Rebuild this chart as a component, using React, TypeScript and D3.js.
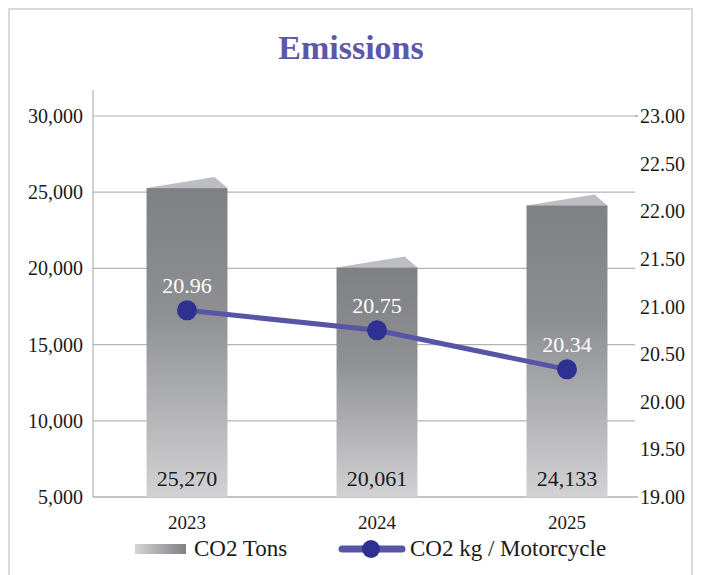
import React from 'react';
import * as d3 from 'd3';

const years = ['2023', '2024', '2025'];
const co2Tons = [25270, 20061, 24133];
const co2PerMoto = [20.96, 20.75, 20.34];
const leftTicks = [5000, 10000, 15000, 20000, 25000, 30000];
const rightTicks = [19, 19.5, 20, 20.5, 21, 21.5, 22, 22.5, 23];

const W = 702;
const H = 575;
const FONT = 'Liberation Serif, DejaVu Serif, Times New Roman, serif';

const App: React.FC = () => {
  const top = 116;
  const bottom = 497;
  const left = 93;
  const gridRight = 635;

  const yLeft = d3.scaleLinear().domain([5000, 30000]).range([bottom, top]);
  const yRight = d3.scaleLinear().domain([19, 23]).range([bottom, top]);
  const x = d3.scaleBand<string>()
    .domain(years)
    .range([92, 662])
    .paddingInner(0.574)
    .paddingOuter(0.287);

  const bw = x.bandwidth();
  const cx = (y: string) => (x(y) ?? 0) + bw / 2;

  const line = d3.line<number>()
    .x((_, i) => cx(years[i]))
    .y(d => yRight(d));

  const fmtL = d3.format(',');
  const fmtR = d3.format('.2f');

  return (
    <div style={{ position: 'absolute', left: 0, top: 0 }}>
      <svg width={W} height={H} fontFamily={FONT} style={{ display: 'block' }}>
        <defs>
          <linearGradient id="barGrad" x1="0" y1="0" x2="0" y2="1">
            <stop offset="0%" stopColor="#7f8084" />
            <stop offset="40%" stopColor="#8e8f93" />
            <stop offset="100%" stopColor="#d2d2d4" />
          </linearGradient>
          <linearGradient id="legGrad" x1="0" y1="0" x2="1" y2="0">
            <stop offset="0%" stopColor="#d4d4d6" />
            <stop offset="100%" stopColor="#7f8084" />
          </linearGradient>
        </defs>
        <rect width={W} height={H} fill="#fff" />
        <rect x={9} y={9} width={683} height={H + 10} fill="none" stroke="#d9d9e4" strokeWidth={2} />

        <text x={351} y={59} textAnchor="middle" fontSize={34} fontWeight="bold" fill="#5c58a8">
          Emissions
        </text>

        {/* gridlines */}
        {leftTicks.slice(1).map(t => (
          <line key={t} x1={left} x2={gridRight} y1={yLeft(t)} y2={yLeft(t)} stroke="#b3b3b3" strokeWidth={1.2} />
        ))}
        <line x1={left} x2={left} y1={90} y2={bottom} stroke="#b3b3b3" strokeWidth={1.2} />
        <line x1={left} x2={638} y1={bottom} y2={bottom} stroke="#8c8c8c" strokeWidth={1.2} />
        <line x1={gridRight} x2={638} y1={top} y2={top} stroke="#8c8c8c" strokeWidth={1.2} />

        {/* left axis labels */}
        {leftTicks.map(t => (
          <text key={t} x={83} y={yLeft(t) + 7} textAnchor="end" fontSize={20} fill="#1a1a1a">
            {fmtL(t)}
          </text>
        ))}
        {/* right axis labels */}
        {rightTicks.map(t => (
          <text key={t} x={640} y={yRight(t) + 7} fontSize={20} fill="#1a1a1a">
            {fmtR(t)}
          </text>
        ))}

        {/* bars */}
        {years.map((yr, i) => {
          const x0 = x(yr) ?? 0;
          const yt = yLeft(co2Tons[i]);
          return (
            <g key={yr}>
              <polygon
                points={`${x0},${yt} ${x0 + bw * 0.84},${yt - 11} ${x0 + bw},${yt}`}
                fill="#bdbec2"
              />
              <rect x={x0} y={yt} width={bw} height={bottom - yt} fill="url(#barGrad)" />
              <text x={cx(yr)} y={bottom - 11} textAnchor="middle" fontSize={22} fill="#1a1a1a">
                {fmtL(co2Tons[i])}
              </text>
            </g>
          );
        })}

        {/* x labels */}
        {years.map(yr => (
          <text key={yr} x={cx(yr)} y={529} textAnchor="middle" fontSize={19} fill="#1a1a1a">
            {yr}
          </text>
        ))}

        {/* line series */}
        <path d={line(co2PerMoto) ?? ''} fill="none" stroke="#5855a6" strokeWidth={5} />
        {co2PerMoto.map((v, i) => (
          <g key={i}>
            <circle cx={cx(years[i])} cy={yRight(v)} r={10} fill="#2e3192" />
            <text x={cx(years[i])} y={yRight(v) - 17} textAnchor="middle" fontSize={22} fill="#fff">
              {fmtR(v)}
            </text>
          </g>
        ))}

        {/* legend */}
        <rect x={135} y={544} width={51} height={10} fill="url(#legGrad)" />
        <text x={194} y={556} fontSize={23} fill="#1a1a1a">CO2 Tons</text>
        <line x1={342} x2={402} y1={549} y2={549} stroke="#5855a6" strokeWidth={7} strokeLinecap="round" />
        <circle cx={371} cy={549} r={9} fill="#2e3192" />
        <text x={410} y={556} fontSize={23} fill="#1a1a1a">CO2 kg / Motorcycle</text>
      </svg>
    </div>
  );
};

export default App;
